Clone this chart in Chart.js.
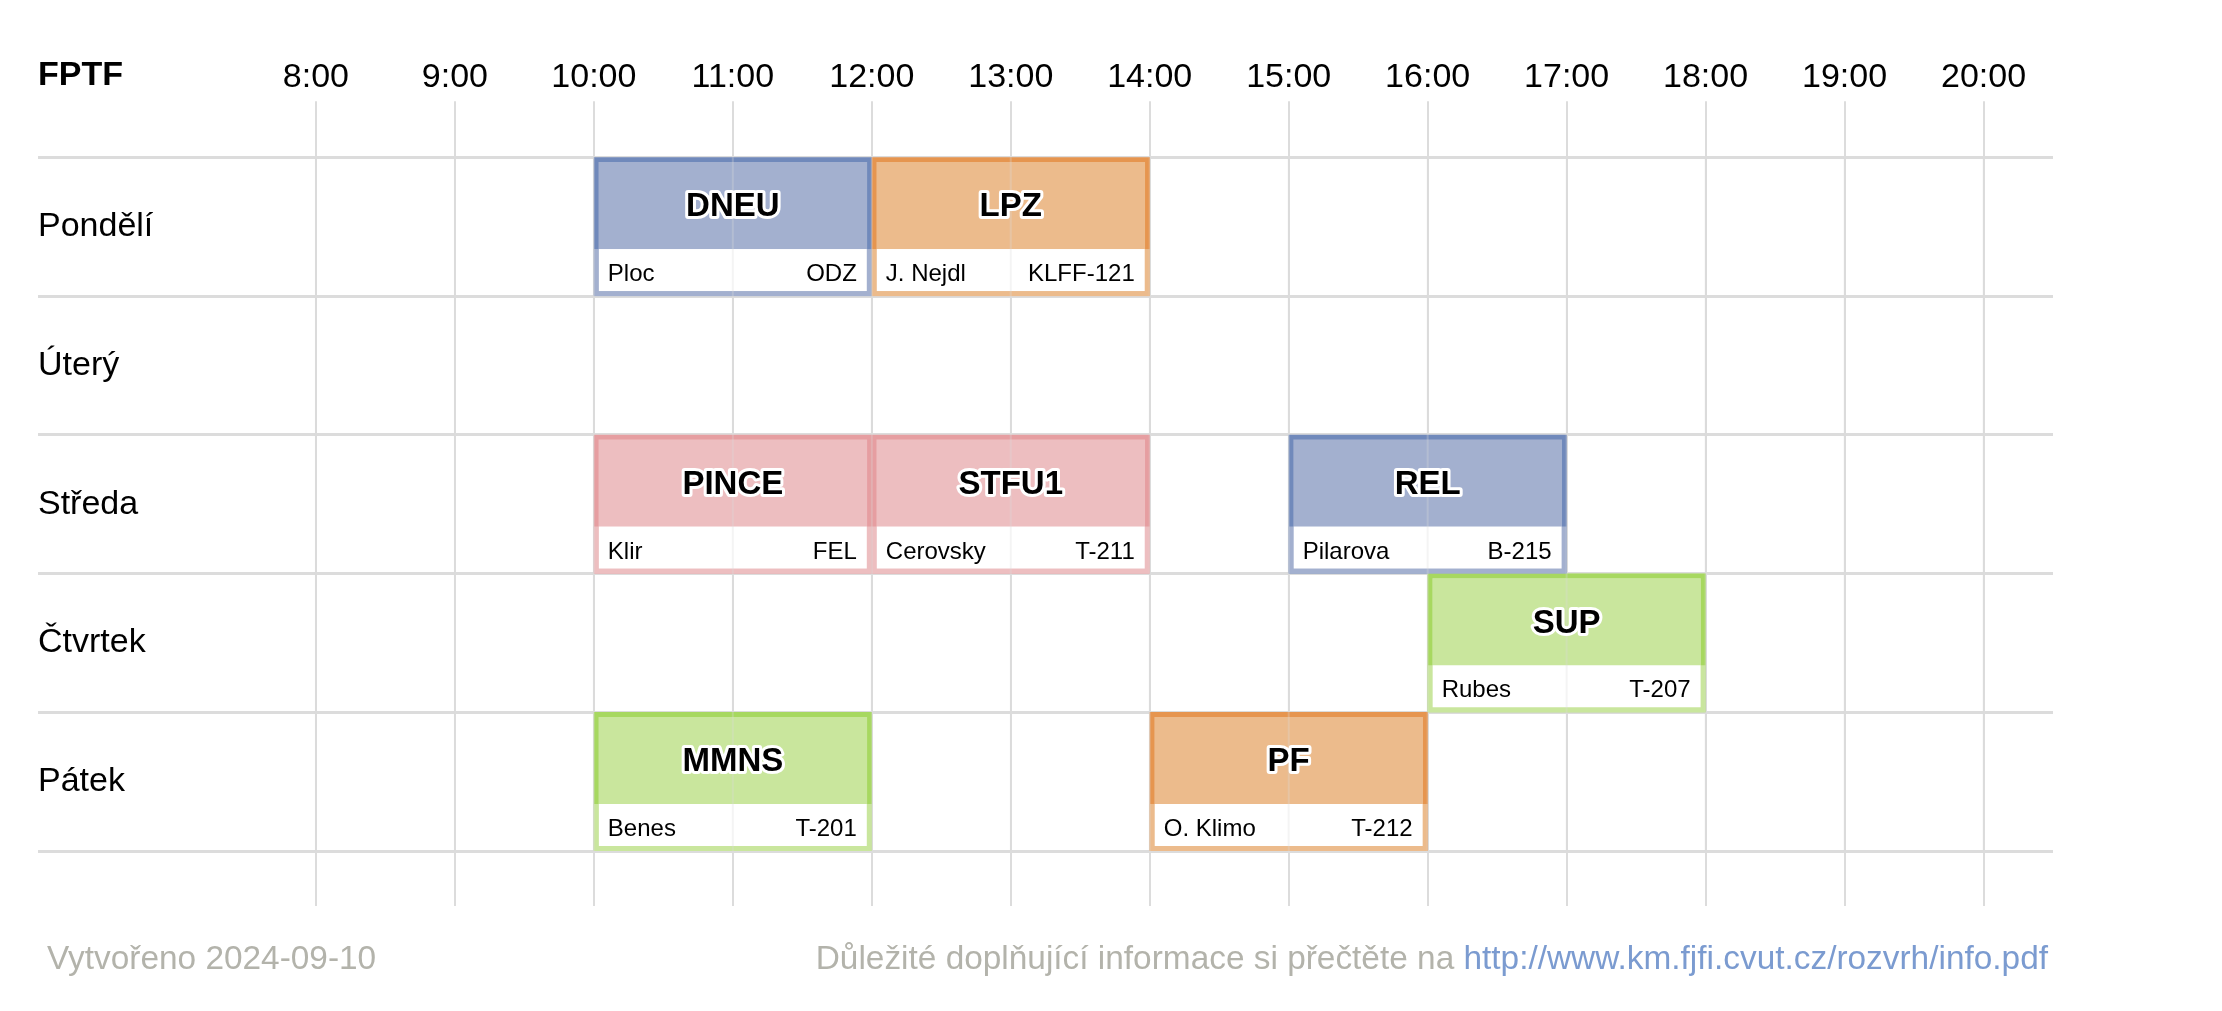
<!DOCTYPE html>
<html>
<head>
<meta charset="utf-8">
<script src="https://cdn.jsdelivr.net/npm/chart.js@4/dist/chart.umd.min.js"></script>
<style>
  body { margin: 0; background: #fff; }
  #wrap { position: relative; width: 2222px; height: 1011px; }
  .foot { position: absolute; top: 938px; font: 33.4px "Liberation Sans", Arial, sans-serif; line-height: 40px; color: #b3b3ab; white-space: nowrap; }
  .foot a { color: #7b9bd0; text-decoration: none; }
</style>
</head>
<body>
<div id="wrap">
  <canvas id="rozvrh" width="2222" height="1011"></canvas>
  <div class="foot" style="left:47px">Vytvořeno 2024-09-10</div>
  <div class="foot" style="right:174px">Důležité doplňující informace si přečtěte na <a href="http://www.km.fjfi.cvut.cz/rozvrh/info.pdf">http://www.km.fjfi.cvut.cz/rozvrh/info.pdf</a></div>
</div>
<script>
const days = ['Pondělí', 'Úterý', 'Středa', 'Čtvrtek', 'Pátek'];
const hourTicks = [8, 9, 10, 11, 12, 13, 14, 15, 16, 17, 18, 19, 20];

const courses     = ['DNEU', 'LPZ', 'PINCE', 'STFU1', 'REL', 'SUP', 'MMNS', 'PF'];
const courseDay   = ['Pondělí', 'Pondělí', 'Středa', 'Středa', 'Středa', 'Čtvrtek', 'Pátek', 'Pátek'];
const courseStart = [10, 12, 10, 12, 15, 16, 10, 14];
const courseEnd   = [12, 14, 12, 14, 17, 18, 12, 16];
const teachers    = ['Ploc', 'J. Nejdl', 'Klir', 'Cerovsky', 'Pilarova', 'Rubes', 'Benes', 'O. Klimo'];
const rooms       = ['ODZ', 'KLFF-121', 'FEL', 'T-211', 'B-215', 'T-207', 'T-201', 'T-212'];
const courseKind  = [0, 1, 2, 2, 0, 3, 3, 1];

// barvy podle druhu
const palette = [
    { fill: '#a3b0cf', line: '#7089bb' },
    { fill: '#ecbb8c', line: '#e6954f' },
    { fill: '#edbec0', line: '#e69ea1' },
    { fill: '#c9e69d', line: '#a7d860' }
];

const FONT = '"Liberation Sans", Arial, sans-serif';
const BORDER = 5;
const STRIP = 47;
const GRID = '#dcdcdc';

const onlyHours = (scale) => { scale.ticks = hourTicks.map(v => ({ value: v })); };

const boxPlugin = {
    id: 'boxes',
    afterDatasetsDraw(chart) {
        const ctx = chart.ctx;
        const xs = chart.scales.x;
        const area = chart.chartArea;
        const bars = chart.getDatasetMeta(0).data;

        ctx.save();
        // spodni bily pruh
        bars.forEach((bar, i) => {
            const p = bar.getProps(['x', 'y', 'base', 'height'], true);
            const left = Math.min(p.x, p.base), right = Math.max(p.x, p.base);
            const bottom = p.y + p.height / 2;
            ctx.fillStyle = palette[courseKind[i]].fill;
            ctx.fillRect(left, bottom - STRIP, right - left, STRIP);
            ctx.fillStyle = '#fff';
            ctx.fillRect(left + BORDER, bottom - STRIP, right - left - 2 * BORDER, STRIP - BORDER);
        });

        // mrizka presvitajici pres bloky
        ctx.strokeStyle = 'rgba(220,220,220,0.3)';
        ctx.lineWidth = 2;
        hourTicks.forEach(h => {
            const px = xs.getPixelForValue(h);
            ctx.beginPath();
            ctx.moveTo(px, area.top);
            ctx.lineTo(px, area.bottom);
            ctx.stroke();
        });

        bars.forEach((bar, i) => {
            const p = bar.getProps(['x', 'y', 'base', 'height'], true);
            const left = Math.min(p.x, p.base), right = Math.max(p.x, p.base);
            const top = p.y - p.height / 2, bottom = p.y + p.height / 2;
            const cx = (left + right) / 2;

            ctx.font = 'bold 33px ' + FONT;
            ctx.textAlign = 'center';
            ctx.textBaseline = 'middle';
            ctx.lineJoin = 'round';
            ctx.lineWidth = 6;
            ctx.strokeStyle = '#fff';
            ctx.strokeText(courses[i], cx, top + 50);
            ctx.fillStyle = '#000';
            ctx.fillText(courses[i], cx, top + 50);

            ctx.font = '24px ' + FONT;
            ctx.textAlign = 'left';
            ctx.fillText(teachers[i], left + 14, bottom - 21.5);
            ctx.textAlign = 'right';
            ctx.fillText(rooms[i], right - 15, bottom - 21.5);
        });

        // nazev v rohu
        ctx.font = 'bold 34px ' + FONT;
        ctx.textAlign = 'left';
        ctx.textBaseline = 'middle';
        ctx.fillStyle = '#000';
        ctx.fillText('FPTF', 38, 76);
        ctx.restore();
    }
};

new Chart(document.getElementById('rozvrh'), {
    type: 'bar',
    data: {
        labels: days,
        datasets: [{
            data: courses.map((c, i) => ({ y: courseDay[i], x: [courseStart[i], courseEnd[i]] })),
            backgroundColor: courseKind.map(k => palette[k].fill),
            borderColor: courseKind.map(k => palette[k].line),
            borderWidth: BORDER,
            borderSkipped: false,
            categoryPercentage: 1,
            barPercentage: 1
        }]
    },
    options: {
        indexAxis: 'y',
        responsive: false,
        animation: false,
        layout: { padding: { left: 38, right: 169, top: 54.5, bottom: 105 } },
        plugins: { legend: { display: false }, tooltip: { enabled: false } },
        scales: {
            x: {
                position: 'top',
                min: 6,
                max: 20.5,
                afterBuildTicks: onlyHours,
                grid: { color: GRID, lineWidth: 2, tickLength: 56 },
                border: { display: false },
                ticks: {
                    autoSkip: false,
                    maxRotation: 0,
                    padding: 3,
                    color: '#000',
                    font: { family: FONT, size: 34 },
                    callback: (v) => v + ':00'
                }
            },
            x2: {
                axis: 'x',
                position: 'bottom',
                min: 6,
                max: 20.5,
                afterBuildTicks: onlyHours,
                grid: { color: GRID, lineWidth: 2, tickLength: 55, drawOnChartArea: false },
                border: { display: false },
                ticks: { display: false }
            },
            y: {
                type: 'category',
                offset: true,
                grid: { color: GRID, lineWidth: 3, offset: true, drawTicks: false },
                border: { display: false },
                ticks: {
                    mirror: true,
                    padding: 0,
                    color: '#000',
                    font: { family: FONT, size: 34 }
                }
            }
        }
    },
    plugins: [boxPlugin]
});
</script>
</body>
</html>
